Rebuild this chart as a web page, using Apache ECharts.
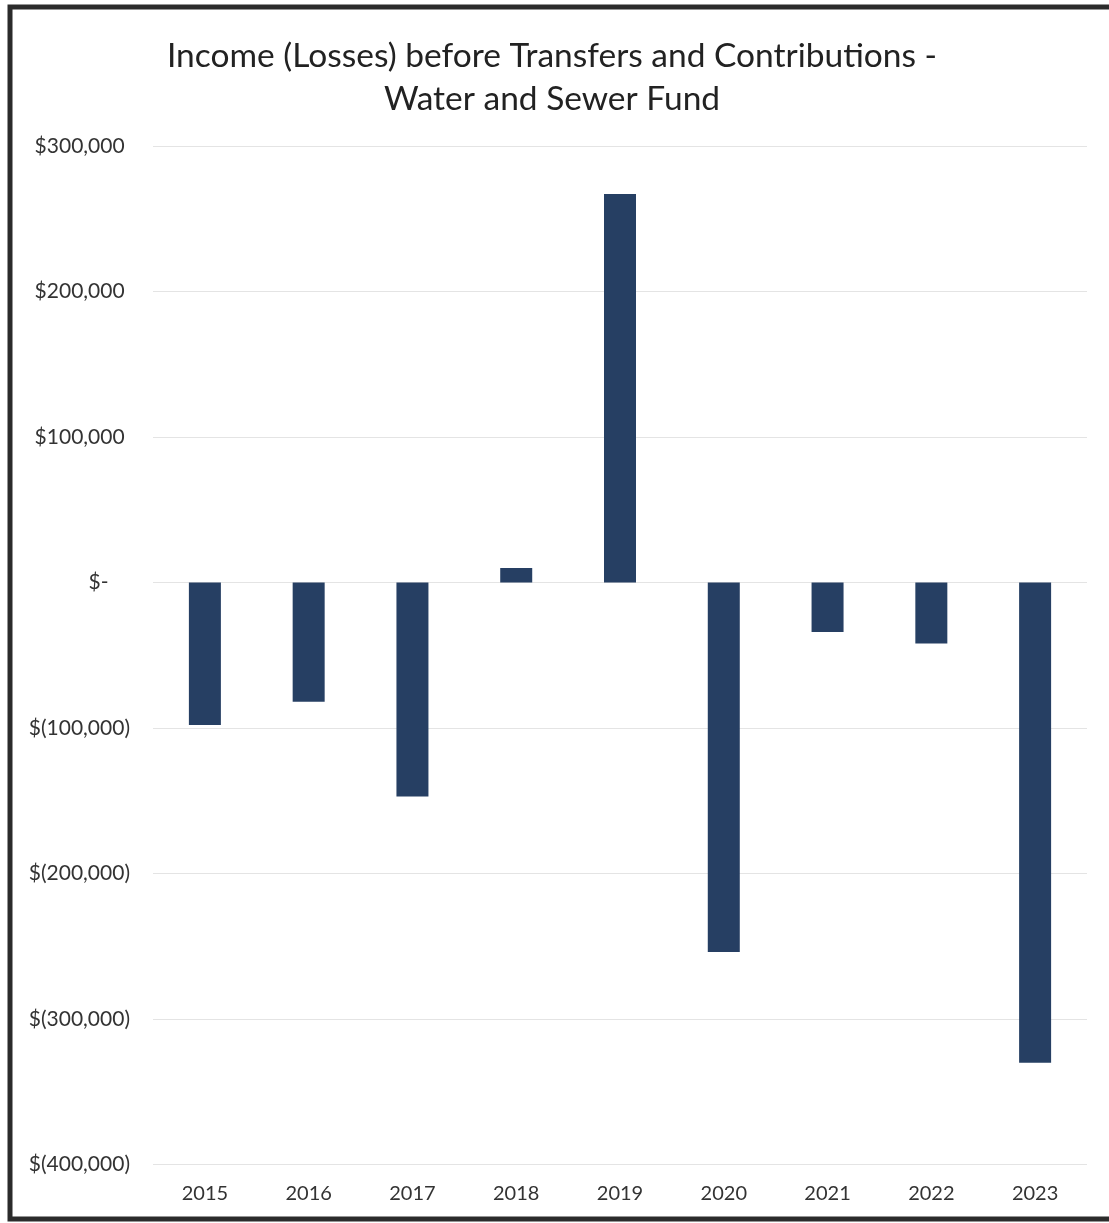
<!DOCTYPE html>
<html>
<head>
<meta charset="utf-8">
<script src="https://cdn.jsdelivr.net/npm/echarts@6/dist/echarts.min.js"></script>
<style>
html,body{margin:0;padding:0;background:#fff;}
#chart{width:1109px;height:1223px;}
</style>
</head>
<body>
<div id="chart"></div>
<script>
const titleText = 'Income (Losses) before Transfers and Contributions -\nWater and Sewer Fund';
const years = ['2015','2016','2017','2018','2019','2020','2021','2022','2023'];
const values = [-98000, -82000, -147000, 10000, 267000, -254000, -34000, -42000, -330000];
const yMin = -400000, yMax = 300000, yStep = 100000;

function fmt(v){
  if (v === 0) return '$-    ';
  const s = Math.abs(v).toLocaleString('en-US');
  return v < 0 ? '$(' + s + ')' : '$' + s + ' ';
}

const chart = echarts.init(document.getElementById('chart'), null, {renderer:'canvas'});
chart.setOption({
  backgroundColor:'#ffffff',
  animation:false,
  textStyle:{fontFamily:'Lato'},
  title:{
    text:titleText,
    left:547, top:30, textAlign:'center',
    textStyle:{fontFamily:'Lato', fontSize:33.5, fontWeight:'normal', color:'#222', lineHeight:43}
  },
  graphic:[{
    type:'rect', silent:true, z:100,
    shape:{x:10, y:7, width:1300, height:1212},
    style:{fill:null, stroke:'#2b2b2b', lineWidth:5}
  }],
  grid:{left:153, right:22, top:146, bottom:58.5, containLabel:false},
  xAxis:{
    type:'category', data:years,
    axisLine:{show:false}, axisTick:{show:false},
    axisLabel:{color:'#333', fontSize:20, fontFamily:'Lato', margin:19}
  },
  yAxis:{
    type:'value', min:yMin, max:yMax, interval:yStep,
    axisLine:{show:false}, axisTick:{show:false},
    splitLine:{lineStyle:{color:'#e4e4e4', width:1}},
    axisLabel:{color:'#333', fontSize:21, fontFamily:'Lato', margin:23, formatter:fmt}
  },
  series:[{
    type:'bar', data:values, barWidth:32,
    itemStyle:{color:'#263f63'}
  }]
});
</script>
</body>
</html>
